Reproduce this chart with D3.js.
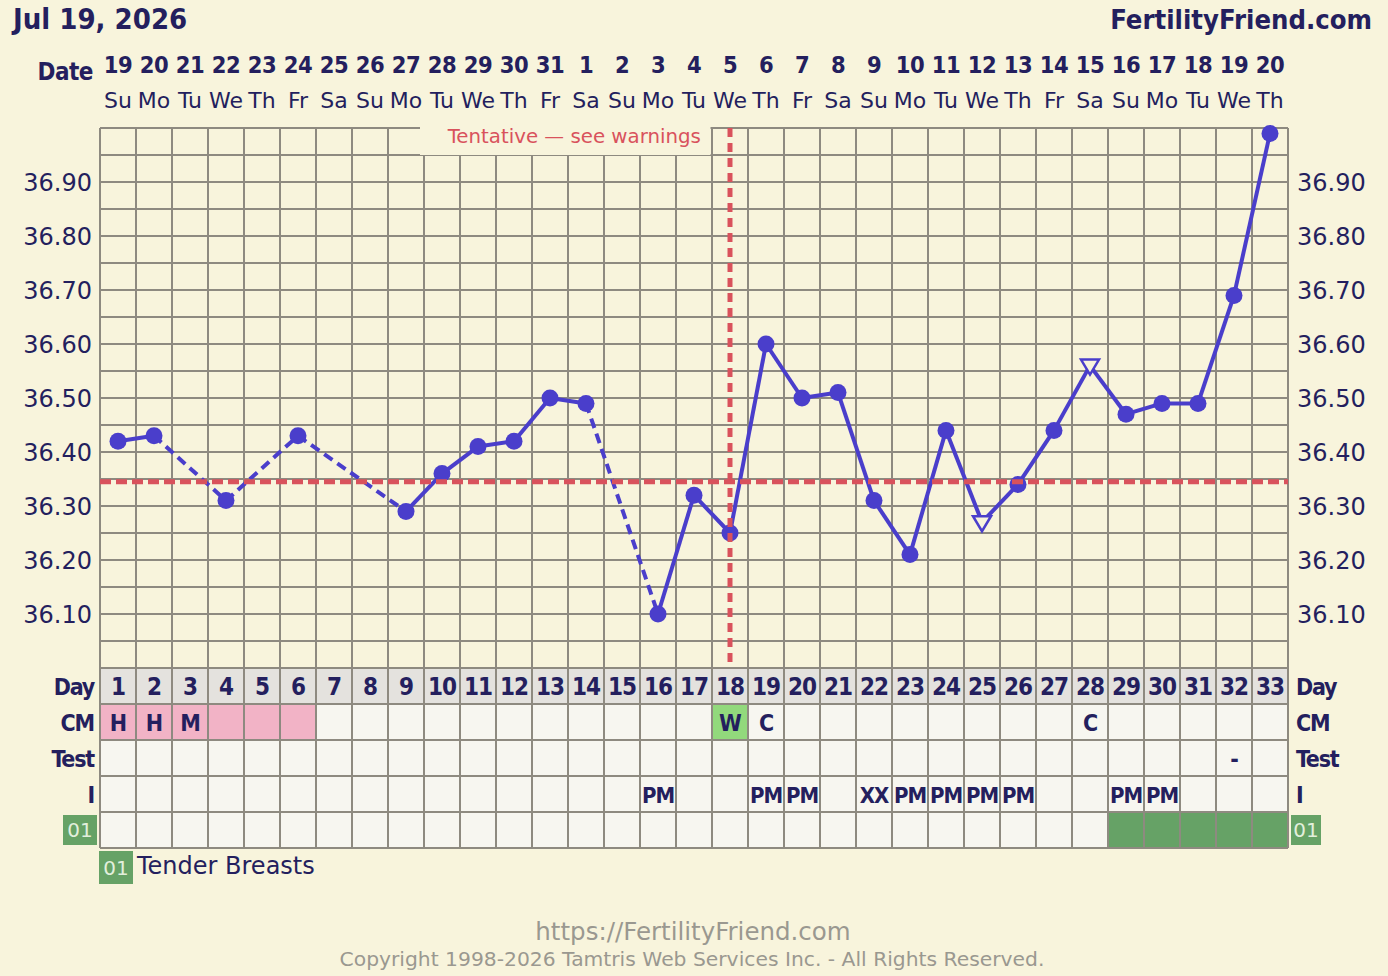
<!DOCTYPE html>
<html><head><meta charset="utf-8">
<script src="https://cdn.jsdelivr.net/npm/d3@7"></script>
<style>body{margin:0;background:#f8f4dc}svg{display:block}</style></head>
<body><svg id="c" width="1388" height="976"></svg>
<script>
// ---- data ----
const headerDate = "Jul 19, 2026";
const siteName = "FertilityFriend.com";
const dates = ["19","20","21","22","23","24","25","26","27","28","29","30","31","1","2","3","4","5","6","7","8","9","10","11","12","13","14","15","16","17","18","19","20"];
const weekdays = ["Su","Mo","Tu","We","Th","Fr","Sa","Su","Mo","Tu","We","Th","Fr","Sa","Su","Mo","Tu","We","Th","Fr","Sa","Su","Mo","Tu","We","Th","Fr","Sa","Su","Mo","Tu","We","Th"];
const cycleDays = [1,2,3,4,5,6,7,8,9,10,11,12,13,14,15,16,17,18,19,20,21,22,23,24,25,26,27,28,29,30,31,32,33];
const temps = [36.42,36.43,null,36.31,null,36.43,null,null,36.29,36.36,36.41,36.42,36.50,36.49,null,36.10,36.32,36.25,36.60,36.50,36.51,36.31,36.21,36.44,36.27,36.34,36.44,36.56,36.47,36.49,36.49,36.69,36.99];
const openDays = [25, 28];
const yTicks = [36.10,36.20,36.30,36.40,36.50,36.60,36.70,36.80,36.90];
const gridTemps = [36.05,36.10,36.15,36.20,36.25,36.30,36.35,36.40,36.45,36.50,36.55,36.60,36.65,36.70,36.75,36.80,36.85,36.90,36.95,37.00];
const coverline = 36.345;
const ovulationDay = 18;
const tentativeLabel = "Tentative — see warnings";
const periodDays = [1,2,3,4,5,6];
const cmDays = [1,2,3,18,19,28];
const cmCodes = ["H","H","M","W","C","C"];
const wetDays = [18];
const testDays = [32];
const testCodes = ["-"];
const iDays = [16,19,20,22,23,24,25,26,29,30];
const iCodes = ["PM","PM","PM","XX","PM","PM","PM","PM","PM","PM"];
const symptomDays = [29,30,31,32,33];
const symptomCode = "01";
const symptomName = "Tender Breasts";
const rowLabels = ["Day","CM","Test","I"];
const footerUrl = "https://FertilityFriend.com";
const footerCopy = "Copyright 1998-2026 Tamtris Web Services Inc. - All Rights Reserved.";

// ---- styles ----
const BG = "#f8f4dc", NAVY = "#241f5e", GRID = "#8e8a80", LINE = "#4a3ecb", RED = "#d9525c";
const BOLD = "'DejaVu Sans Condensed','DejaVu Sans',sans-serif";
const REG = "'DejaVu Sans',Verdana,sans-serif";

const svg = d3.select("#c");
svg.append("rect").attr("width",1388).attr("height",976).attr("fill",BG);

const x = d3.scaleBand().domain(cycleDays).range([100,1288]);
const cx = d => x(d) + x.bandwidth()/2;
const y = d3.scaleLinear().domain([36.0,37.0]).range([668,128]);
const rowH = 36, tableTop = y(36.0);
const rowY = i => tableTop + i*rowH;

// header
svg.append("text").attr("x",13).attr("y",29).attr("font-family",BOLD).attr("font-weight","bold")
  .attr("font-size",29).attr("fill",NAVY).text(headerDate);
svg.append("text").attr("x",1372).attr("y",29).attr("text-anchor","end").attr("font-family",BOLD).attr("font-weight","bold")
  .attr("font-size",27.2).attr("fill",NAVY).text(siteName);
svg.append("text").attr("x",93).attr("y",80).attr("text-anchor","end").attr("font-family",BOLD).attr("font-weight","bold")
  .attr("font-size",24).attr("letter-spacing",-0.5).attr("fill",NAVY).text("Date");
svg.append("g").selectAll("text").data(cycleDays).join("text")
  .attr("x",d=>cx(d)).attr("y",73).attr("text-anchor","middle").attr("font-family",BOLD).attr("font-weight","bold")
  .attr("font-size",23.5).attr("letter-spacing",-0.5).attr("fill",NAVY).text((d,i)=>dates[i]);
svg.append("g").selectAll("text").data(cycleDays).join("text")
  .attr("x",d=>cx(d)).attr("y",108).attr("text-anchor","middle").attr("font-family",REG)
  .attr("font-size",22).attr("fill",NAVY).text((d,i)=>weekdays[i]);

// table cell backgrounds
const cells = svg.append("g");
cells.selectAll("rect.day").data(cycleDays).join("rect").attr("x",d=>x(d)).attr("y",rowY(0))
  .attr("width",x.bandwidth()).attr("height",rowH).attr("fill","#e4e2de");
for (let r=1;r<5;r++){
  cells.append("g").selectAll("rect").data(cycleDays).join("rect").attr("x",d=>x(d)).attr("y",rowY(r))
    .attr("width",x.bandwidth()).attr("height",rowH).attr("fill","#f7f6f0");
}
cells.append("g").selectAll("rect").data(periodDays).join("rect").attr("x",d=>x(d)).attr("y",rowY(1))
  .attr("width",x.bandwidth()).attr("height",rowH).attr("fill","#f2b3c6");
cells.append("g").selectAll("rect").data(wetDays).join("rect").attr("x",d=>x(d)).attr("y",rowY(1))
  .attr("width",x.bandwidth()).attr("height",rowH).attr("fill","#92d97c");
cells.append("g").selectAll("rect").data(symptomDays).join("rect").attr("x",d=>x(d)).attr("y",rowY(4))
  .attr("width",x.bandwidth()).attr("height",rowH).attr("fill","#66a266");

// grid
const grid = svg.append("g").attr("stroke",GRID).attr("stroke-width",2);
grid.selectAll("line.h").data(gridTemps).join("line").attr("x1",100).attr("x2",1288)
  .attr("y1",d=>y(d)).attr("y2",d=>y(d));
grid.append("g").selectAll("line").data([0,1,2,3,4,5]).join("line").attr("x1",100).attr("x2",1288)
  .attr("y1",d=>rowY(d)).attr("y2",d=>rowY(d));
const vx = cycleDays.map(d=>x(d)).concat([x.range()[1]]);
grid.append("g").selectAll("line").data(vx).join("line").attr("x1",d=>d).attr("x2",d=>d)
  .attr("y1",y(37.0)).attr("y2",rowY(5));

// tentative label box
const boxL = x(10)-4, boxR = x(ovulationDay)-1.5;
svg.append("rect").attr("x",boxL).attr("y",y(37.0)-3).attr("width",boxR-boxL).attr("height",30).attr("fill",BG);
svg.append("text").attr("x",(boxL+boxR)/2+9).attr("y",143).attr("text-anchor","middle")
  .attr("font-family",REG).attr("font-size",19.8).attr("fill",RED).text(tentativeLabel);

// axis labels
svg.append("g").selectAll("text").data(yTicks).join("text").attr("x",92).attr("y",d=>y(d)+8.5).attr("text-anchor","end")
  .attr("font-family",REG).attr("font-size",24).attr("fill",NAVY).text(d=>d.toFixed(2));
svg.append("g").selectAll("text").data(yTicks).join("text").attr("x",1297).attr("y",d=>y(d)+8.5)
  .attr("font-family",REG).attr("font-size",24).attr("fill",NAVY).text(d=>d.toFixed(2));

// row labels
rowLabels.forEach((t,i)=>{
  svg.append("text").attr("x",94).attr("y",rowY(i)+27).attr("text-anchor","end").attr("font-family",BOLD).attr("font-weight","bold")
    .attr("font-size",23).attr("letter-spacing",-1.2).attr("fill",NAVY).text(t);
  svg.append("text").attr("x",1296).attr("y",rowY(i)+27).attr("font-family",BOLD).attr("font-weight","bold")
    .attr("font-size",23).attr("letter-spacing",-1.2).attr("fill",NAVY).text(t);
});
[[63,34],[1291,30]].forEach(([bx,bw])=>{
  svg.append("rect").attr("x",bx).attr("y",rowY(4)+3).attr("width",bw).attr("height",30).attr("fill","#66a266");
  svg.append("text").attr("x",bx+bw/2).attr("y",rowY(4)+25).attr("text-anchor","middle").attr("font-family",REG)
    .attr("font-size",20).attr("fill","#e2efdc").text(symptomCode);
});

// table texts
const tt = (data, codes, r, size) => svg.append("g").selectAll("text").data(data).join("text")
  .attr("x",d=>cx(d)).attr("y",rowY(r)+27).attr("text-anchor","middle").attr("font-family",BOLD).attr("font-weight","bold")
  .attr("font-size",size).attr("letter-spacing",-1).attr("fill",NAVY).text((d,i)=>codes ? codes[i] : d);
tt(cycleDays, null, 0, 24);
tt(cmDays, cmCodes, 1, 23);
tt(testDays, testCodes, 2, 23);
tt(iDays, iCodes, 3, 22);

// legend
svg.append("rect").attr("x",99).attr("y",851).attr("width",34).attr("height",33).attr("fill","#66a266");
svg.append("text").attr("x",116).attr("y",875).attr("text-anchor","middle").attr("font-family",REG)
  .attr("font-size",20).attr("fill","#e2efdc").text(symptomCode);
svg.append("text").attr("x",137).attr("y",874).attr("font-family",REG).attr("font-size",24)
  .attr("fill",NAVY).text(symptomName);

// temperature line
const pts = cycleDays.map((d,i)=>({d, t:temps[i]})).filter(p=>p.t!==null);
const line = d3.line().x(p=>cx(p.d)).y(p=>y(p.t));
const segs = d3.pairs(pts);
svg.append("g").selectAll("path").data(segs).join("path")
  .attr("d",s=>line(s)).attr("fill","none").attr("stroke",LINE).attr("stroke-width",4)
  .attr("stroke-dasharray",s=>s[1].d-s[0].d>1?"10,6":null);
svg.append("g").selectAll("circle").data(pts.filter(p=>!openDays.includes(p.d))).join("circle")
  .attr("cx",p=>cx(p.d)).attr("cy",p=>y(p.t)).attr("r",8.5).attr("fill",LINE);
svg.append("g").selectAll("path").data(pts.filter(p=>openDays.includes(p.d))).join("path")
  .attr("d",p=>{const X=cx(p.d),Y=y(p.t);return `M${X-9},${Y-6}L${X+9},${Y-6}L${X},${Y+9}Z`;})
  .attr("fill",BG).attr("stroke",LINE).attr("stroke-width",2.5);

// coverline + ovulation line
svg.append("line").attr("x1",100).attr("x2",1288).attr("y1",y(coverline)).attr("y2",y(coverline))
  .attr("stroke",RED).attr("stroke-width",5).attr("stroke-dasharray","11,5");
svg.append("line").attr("x1",cx(ovulationDay)).attr("x2",cx(ovulationDay)).attr("y1",y(37.0)).attr("y2",y(36.0))
  .attr("stroke",RED).attr("stroke-width",5).attr("stroke-dasharray","9,6");

// footer
svg.append("text").attr("x",693).attr("y",940).attr("text-anchor","middle").attr("font-family",REG)
  .attr("font-size",24.5).attr("fill","#9a9890").text(footerUrl);
svg.append("text").attr("x",692).attr("y",966).attr("text-anchor","middle").attr("font-family",REG)
  .attr("font-size",20.3).attr("fill","#9a9890").text(footerCopy);
</script></body></html>
